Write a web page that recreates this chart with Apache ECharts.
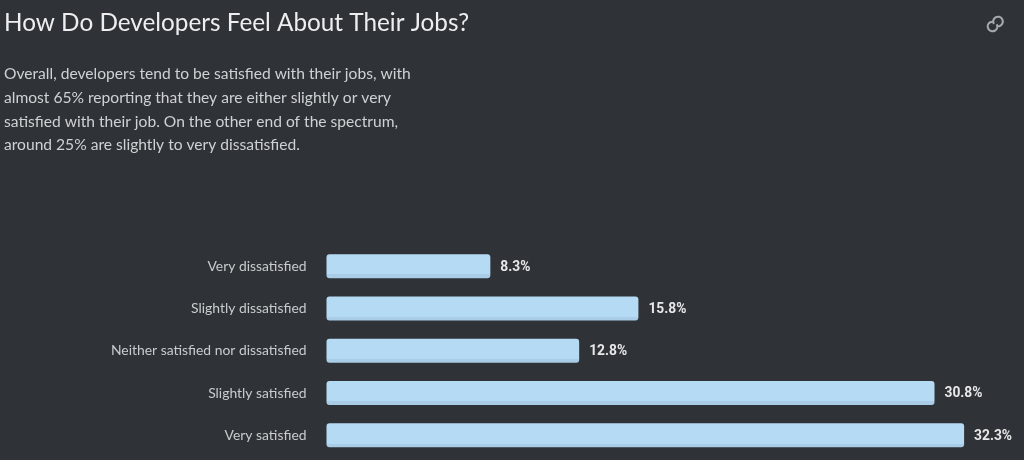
<!DOCTYPE html>
<html><head><meta charset="utf-8">
<style>html,body{margin:0;padding:0;background:#2f3237}#c{width:1024px;height:460px}</style>
<script src="https://cdn.jsdelivr.net/npm/echarts@6/dist/echarts.min.js"></script>
</head><body><div id="c"></div>
<script>
const categories = ["Very dissatisfied","Slightly dissatisfied","Neither satisfied nor dissatisfied","Slightly satisfied","Very satisfied"];
const values = [8.3,15.8,12.8,30.8,32.3];
const titleText = "How Do Developers Feel About Their Jobs?";
const introText = "Overall, developers tend to be satisfied with their jobs, with\nalmost 65% reporting that they are either slightly or very\nsatisfied with their job. On the other end of the spectrum,\naround 25% are slightly to very dissatisfied.";
const FONT = "Lato";
const chart = echarts.init(document.getElementById('c'), null, {renderer:'canvas'});
chart.setOption({
  animation:false,
  backgroundColor:'#2f3237',
  title:[
    {text:titleText,left:-1,top:6,textStyle:{color:'#eceeef',fontSize:24.3,fontWeight:'normal',fontFamily:FONT}},
    {text:introText,left:-1,top:57,textStyle:{color:'#cfd2d4',fontSize:15.6,fontWeight:'normal',fontFamily:FONT,lineHeight:23.8}}
  ],
  grid:{left:326.5,top:245,width:680,height:211.5},
  xAxis:{type:'value',min:0,max:680/19.74,show:false},
  yAxis:{type:'category',inverse:true,data:categories,axisLine:{show:false},axisTick:{show:false},
    axisLabel:{color:'#c9ccce',fontSize:13.9,fontFamily:FONT,margin:20}},
  series:[{type:'bar',data:values,barWidth:24,
    itemStyle:{borderRadius:3,color:new echarts.graphic.LinearGradient(0,0,0,1,[
      {offset:0,color:'#b5dbf4'},{offset:0.84,color:'#b5dbf4'},{offset:0.84,color:'#a9cde6'},{offset:1,color:'#a9cde6'}])},
    label:{show:true,position:'right',distance:10,offset:[0,1],formatter:p=>p.value+'%',color:'#e6e8e9',fontSize:13.8,fontWeight:'bold',fontFamily:'Roboto'}}],
  graphic:[
    {type:'arc',shape:{cx:992.5,cy:26.5,r:4.8,startAngle:-0.5,endAngle:5.0,clockwise:true},style:{fill:'none',stroke:'#a6a9ac',lineWidth:2.1}},
    {type:'arc',shape:{cx:998,cy:21.5,r:4.8,startAngle:2.6,endAngle:8.1,clockwise:true},style:{fill:'none',stroke:'#a6a9ac',lineWidth:2.1}}
  ]
});
</script></body></html>
